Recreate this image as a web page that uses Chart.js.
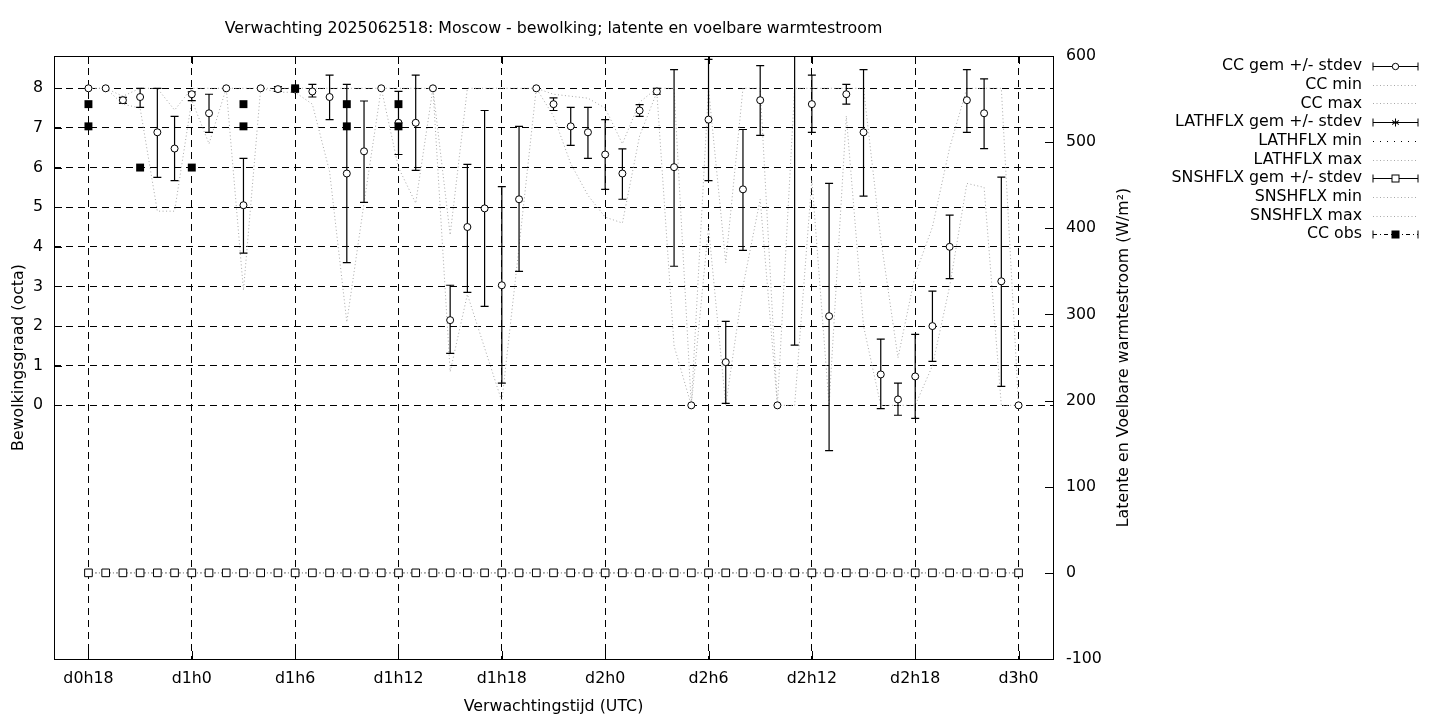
<!DOCTYPE html>
<html>
<head>
<meta charset="utf-8">
<title>Verwachting 2025062518: Moscow</title>
<script src="https://cdn.jsdelivr.net/npm/chart.js@4.4.1/dist/chart.umd.min.js"></script>
<style>
  html, body { margin: 0; padding: 0; background: #fff; }
  #wrap { width: 1440px; height: 720px; }
</style>
</head>
<body>
<div id="wrap"><canvas id="chart" width="1440" height="720"></canvas></div>
<script>
// lead time in hours since d0h0, one step per hour
const hours = [18, 19, 20, 21, 22, 23, 24, 25, 26, 27, 28, 29, 30, 31, 32, 33, 34, 35, 36, 37,
    38, 39, 40, 41, 42, 43, 44, 45, 46, 47, 48, 49, 50, 51, 52, 53, 54, 55, 56, 57,
    58, 59, 60, 61, 62, 63, 64, 65, 66, 67, 68, 69, 70, 71, 72];
const tickHours = [18, 24, 30, 36, 42, 48, 54, 60, 66, 72];
const tickLabels = ['d0h18', 'd1h0', 'd1h6', 'd1h12', 'd1h18', 'd2h0', 'd2h6', 'd2h12', 'd2h18', 'd3h0'];
const ccTicks = [0, 1, 2, 3, 4, 5, 6, 7, 8];
const fluxTicks = [-100, 0, 100, 200, 300, 400, 500, 600];

// cloud cover (octa): mean, mean - stdev, mean + stdev, min, max
const ccMean = [8.0, 8.0, 7.70, 7.78, 6.89, 6.48, 7.85, 7.37, 8.0, 5.05,
    8.0, 7.98, 7.97, 7.92, 7.78, 5.85, 6.41, 8.0, 7.13, 7.13,
    8.0, 2.15, 4.50, 4.97, 3.03, 5.20, 8.0, 7.60, 7.04, 6.89,
    6.33, 5.85, 7.44, 7.92, 6.01, 0.0, 7.21, 1.09, 5.45, 7.70,
    0.0, null, 7.60, 2.25, 7.85, 6.89, 0.78, 0.15, 0.73, 2.00,
    4.00, 7.70, 7.37, 3.13, 0.0];
const ccLow = [null, null, 7.62, 7.52, 5.75, 5.67, 7.69, 6.89, null, 3.84,
    null, 7.92, 7.90, 7.78, 7.21, 3.60, 5.12, null, 6.33, 5.93,
    null, 1.31, 2.85, 2.50, 0.56, 3.38, null, 7.44, 6.56, 6.23,
    5.45, 5.20, 7.29, 7.85, 3.51, null, 5.67, 0.05, 3.91, 6.81,
    null, 1.52, 6.89, -1.14, 7.60, 5.28, -0.08, -0.25, -0.33, 1.11,
    3.20, 6.89, 6.48, 0.48, null];
const ccHigh = [null, null, 7.77, 8.00, 8.00, 7.29, 7.91, 7.85, null, 6.23,
    null, 8.04, 8.03, 8.10, 8.33, 8.10, 7.68, null, 7.92, 8.33,
    null, 3.03, 6.08, 7.44, 5.52, 7.04, null, 7.76, 7.52, 7.52,
    7.21, 6.47, 7.59, 8.00, 8.47, null, 8.73, 2.12, 6.96, 8.57,
    null, 9.60, 8.33, 5.60, 8.10, 8.47, 1.67, 0.56, 1.79, 2.88,
    4.80, 8.47, 8.24, 5.76, null];
const ccMin = [8.0, 8.0, 7.6, 7.5, 4.9, 4.9, 7.7, 6.6, 8.0, 2.9,
    8.0, 7.9, 7.9, 7.6, 5.9, 2.1, 5.1, 8.0, 6.0, 5.1,
    8.0, 0.85, 2.8, 1.45, 0.1, 4.0, 8.0, 7.3, 6.1, 5.3,
    4.75, 4.6, 6.8, 7.9, 1.5, 0.0, 4.5, 0.0, 3.0, 5.2,
    0.0, 0.0, 5.7, 0.0, 7.3, 2.0, 0.0, 0.0, 0.0, 1.0,
    3.0, 5.6, 5.5, 0.0, 0.0];
const ccMax = [8.0, 8.0, 7.8, 8.0, 8.0, 7.45, 8.0, 8.0, 8.0, 8.0,
    8.0, 8.0, 8.0, 8.0, 8.0, 8.0, 8.0, 8.0, 8.0, 8.0,
    8.0, 4.3, 8.0, 8.0, 8.0, 8.0, 8.0, 7.85, 7.8, 7.75,
    7.5, 6.6, 7.65, 8.0, 8.0, 0.0, 8.0, 3.6, 8.0, 8.0,
    0.0, 8.0, 8.0, 8.0, 8.0, 8.0, 4.2, 1.2, 3.3, 4.5,
    6.5, 8.0, 8.0, 8.0, 0.0];

// latent and sensible heat flux (W/m2)
const lathMean = [0, 0, 0, 0, 0, 0, 0, 0, 0, 0, 0, 0, 0, 0, 0, 0, 0, 0, 0, 0, 0, 0, 0, 0, 0, 0, 0, 0,
    0, 0, 0, 0, 0, 0, 0, 0, 0, 0, 0, 0, 0, 0, 0, 0, 0, 0, 0, 0, 0, 0, 0, 0, 0, 0, 0];
const lathMin = [0, 0, 0, 0, 0, 0, 0, 0, 0, 0, 0, 0, 0, 0, 0, 0, 0, 0, 0, 0, 0, 0, 0, 0, 0, 0, 0, 0,
    0, 0, 0, 0, 0, 0, 0, 0, 0, 0, 0, 0, 0, 0, 0, 0, 0, 0, 0, 0, 0, 0, 0, 0, 0, 0, 0];
const lathMax = [0, 0, 0, 0, 0, 0, 0, 0, 0, 0, 0, 0, 0, 0, 0, 0, 0, 0, 0, 0, 0, 0, 0, 0, 0, 0, 0, 0,
    0, 0, 0, 0, 0, 0, 0, 0, 0, 0, 0, 0, 0, 0, 0, 0, 0, 0, 0, 0, 0, 0, 0, 0, 0, 0, 0];
const snshMean = [0, 0, 0, 0, 0, 0, 0, 0, 0, 0, 0, 0, 0, 0, 0, 0, 0, 0, 0, 0, 0, 0, 0, 0, 0, 0, 0, 0,
    0, 0, 0, 0, 0, 0, 0, 0, 0, 0, 0, 0, 0, 0, 0, 0, 0, 0, 0, 0, 0, 0, 0, 0, 0, 0, 0];
const snshMin = [0, 0, 0, 0, 0, 0, 0, 0, 0, 0, 0, 0, 0, 0, 0, 0, 0, 0, 0, 0, 0, 0, 0, 0, 0, 0, 0, 0,
    0, 0, 0, 0, 0, 0, 0, 0, 0, 0, 0, 0, 0, 0, 0, 0, 0, 0, 0, 0, 0, 0, 0, 0, 0, 0, 0];
const snshMax = [0, 0, 0, 0, 0, 0, 0, 0, 0, 0, 0, 0, 0, 0, 0, 0, 0, 0, 0, 0, 0, 0, 0, 0, 0, 0, 0, 0,
    0, 0, 0, 0, 0, 0, 0, 0, 0, 0, 0, 0, 0, 0, 0, 0, 0, 0, 0, 0, 0, 0, 0, 0, 0, 0, 0];

// observed cloud cover
const obsHours = [18, 18, 21, 24, 27, 27, 30, 33, 33, 36, 36];
const obsValues = [7.6, 7.04, 6.0, 6.0, 7.6, 7.04, 8.0, 7.6, 7.04, 7.6, 7.04];

const legendLabels = ['CC gem +/- stdev', 'CC min', 'CC max', 'LATHFLX gem +/- stdev', 'LATHFLX min',
    'LATHFLX max', 'SNSHFLX gem +/- stdev', 'SNSHFLX min', 'SNSHFLX max', 'CC obs'];
const legendKinds = ['errCircle', 'gray', 'gray', 'errStar', 'blackDots', 'gray', 'errSquare', 'gray', 'gray', 'obs'];

const FONT = '15.8px "DejaVu Sans"';
const GRAY = '#a8a8a8';

function xy(values) {
    return hours.map((h, i) => ({x: h, y: values[i]}));
}

function grayLine(label, values, axis, order) {
    return {
        label: label, data: xy(values), yAxisID: axis, order: order,
        borderColor: GRAY, borderWidth: 1, borderDash: [1, 2.5],
        pointRadius: 0, showLine: true, spanGaps: false
    };
}

// error bars for the CC mean, drawn just before the mean circles
function drawErrorBars(chart) {
    const ctx = chart.ctx;
    const xs = chart.scales.x;
    const ys = chart.scales.y;
    const area = chart.chartArea;
    ctx.save();
    ctx.beginPath();
    ctx.rect(area.left, area.top, area.right - area.left, area.bottom - area.top);
    ctx.clip();
    ctx.strokeStyle = '#000';
    ctx.lineWidth = 1.2;
    ctx.setLineDash([]);
    hours.forEach((h, i) => {
        if (ccLow[i] === null || ccHigh[i] === null) return;
        const x = xs.getPixelForValue(h);
        const y1 = ys.getPixelForValue(ccLow[i]);
        const y2 = ys.getPixelForValue(ccHigh[i]);
        ctx.beginPath();
        ctx.moveTo(x, y1); ctx.lineTo(x, y2);
        ctx.moveTo(x - 4, y1); ctx.lineTo(x + 4, y1);
        ctx.moveTo(x - 4, y2); ctx.lineTo(x + 4, y2);
        ctx.stroke();
    });
    ctx.restore();
}

function drawSample(ctx, kind, x1, x2, y) {
    const xm = (x1 + x2) / 2;
    ctx.save();
    ctx.strokeStyle = '#000';
    ctx.lineWidth = 1;
    if (kind === 'gray') {
        ctx.strokeStyle = GRAY;
        ctx.setLineDash([1, 2.5]);
        ctx.beginPath(); ctx.moveTo(x1, y); ctx.lineTo(x2, y); ctx.stroke();
    } else if (kind === 'blackDots') {
        ctx.setLineDash([1, 6]);
        ctx.beginPath(); ctx.moveTo(x1, y); ctx.lineTo(x2, y); ctx.stroke();
    } else {
        if (kind === 'obs') ctx.setLineDash([4, 3, 1, 3]);
        ctx.beginPath(); ctx.moveTo(x1, y); ctx.lineTo(x2, y); ctx.stroke();
        ctx.setLineDash([]);
        ctx.beginPath();
        ctx.moveTo(x1, y - 4); ctx.lineTo(x1, y + 4);
        ctx.moveTo(x2, y - 4); ctx.lineTo(x2, y + 4);
        ctx.stroke();
        if (kind === 'errCircle') {
            ctx.fillStyle = '#fff';
            ctx.beginPath(); ctx.arc(xm, y, 3.2, 0, Math.PI * 2); ctx.fill(); ctx.stroke();
        } else if (kind === 'errSquare') {
            ctx.fillStyle = '#fff';
            ctx.fillRect(xm - 3.5, y - 3.5, 7, 7); ctx.strokeRect(xm - 3.5, y - 3.5, 7, 7);
        } else if (kind === 'obs') {
            ctx.fillStyle = '#000';
            ctx.fillRect(xm - 4, y - 4, 8, 8);
        } else if (kind === 'errStar') {
            ctx.beginPath();
            for (let k = 0; k < 3; k++) {
                const a = k * Math.PI / 3;
                ctx.moveTo(xm - 4 * Math.sin(a), y - 4 * Math.cos(a));
                ctx.lineTo(xm + 4 * Math.sin(a), y + 4 * Math.cos(a));
            }
            ctx.moveTo(xm - 4, y); ctx.lineTo(xm + 4, y);
            ctx.stroke();
        }
    }
    ctx.restore();
}

const gnuplotFrame = {
    id: 'gnuplotFrame',
    beforeDraw(chart) {
        const ctx = chart.ctx;
        ctx.save();
        ctx.fillStyle = '#fff';
        ctx.fillRect(0, 0, chart.width, chart.height);
        ctx.restore();
    },
    beforeDatasetDraw(chart, args) {
        if (chart.data.datasets[args.index].label === 'CC gem +/- stdev') drawErrorBars(chart);
    },
    afterDraw(chart) {
        const ctx = chart.ctx;
        const a = chart.chartArea;
        const xs = chart.scales.x, ys = chart.scales.y, y2 = chart.scales.y2;
        ctx.save();
        ctx.strokeStyle = '#000';
        ctx.lineWidth = 1;
        ctx.setLineDash([]);
        ctx.strokeRect(Math.round(a.left) + 0.5, Math.round(a.top) + 0.5,
            Math.round(a.right - a.left), Math.round(a.bottom - a.top));

        // inward tick marks
        ctx.beginPath();
        tickHours.forEach(h => {
            const x = Math.round(xs.getPixelForValue(h)) + 0.5;
            ctx.moveTo(x, a.bottom); ctx.lineTo(x, a.bottom - 8);
            ctx.moveTo(x, a.top); ctx.lineTo(x, a.top + 8);
        });
        ccTicks.forEach(v => {
            const y = Math.round(ys.getPixelForValue(v)) + 0.5;
            ctx.moveTo(a.left, y); ctx.lineTo(a.left + 8, y);
        });
        fluxTicks.forEach(v => {
            const y = Math.round(y2.getPixelForValue(v)) + 0.5;
            ctx.moveTo(a.right, y); ctx.lineTo(a.right - 8, y);
        });
        ctx.stroke();

        // titles
        ctx.fillStyle = '#000';
        ctx.font = FONT;
        ctx.textAlign = 'center';
        ctx.textBaseline = 'middle';
        const cx = (a.left + a.right) / 2;
        const cy = (a.top + a.bottom) / 2;
        ctx.fillText('Verwachting 2025062518: Moscow - bewolking; latente en voelbare warmtestroom', cx, 29);
        ctx.fillText('Verwachtingstijd (UTC)', cx, 707);
        ctx.save();
        ctx.translate(19, cy);
        ctx.rotate(-Math.PI / 2);
        ctx.fillText('Bewolkingsgraad (octa)', 0, 0);
        ctx.restore();
        ctx.save();
        ctx.translate(1124, cy);
        ctx.rotate(-Math.PI / 2);
        ctx.fillText('Latente en Voelbare warmtestroom (W/m\u00B2)', 0, 0);
        ctx.restore();

        // key
        ctx.textAlign = 'right';
        legendLabels.forEach((label, k) => {
            const y = 66 + k * 18.7;
            ctx.fillStyle = '#000';
            ctx.fillText(label, 1362, y);
            drawSample(ctx, legendKinds[k], 1373, 1418, Math.round(y) + 0.5);
        });
        ctx.restore();
    }
};

const chart = new Chart(document.getElementById('chart').getContext('2d'), {
    type: 'line',
    data: {
        datasets: [
            {
                label: 'CC obs', order: 0, yAxisID: 'y',
                data: obsHours.map((h, i) => ({x: h, y: obsValues[i]})),
                showLine: false, pointStyle: 'rect', pointRadius: 5.6,
                pointBackgroundColor: '#000', pointBorderColor: '#000', pointBorderWidth: 0
            },
            {
                label: 'SNSHFLX gem +/- stdev', order: 1, yAxisID: 'y2', data: xy(snshMean),
                showLine: false, pointStyle: 'rect', pointRadius: 5.4,
                pointBackgroundColor: '#fff', pointBorderColor: '#000', pointBorderWidth: 1
            },
            grayLine('SNSHFLX max', snshMax, 'y2', 2),
            grayLine('SNSHFLX min', snshMin, 'y2', 3),
            grayLine('LATHFLX max', lathMax, 'y2', 4),
            {
                label: 'LATHFLX min', order: 5, yAxisID: 'y2', data: xy(lathMin),
                borderColor: '#000', borderWidth: 1, borderDash: [1, 6], pointRadius: 0
            },
            {
                label: 'LATHFLX gem +/- stdev', order: 6, yAxisID: 'y2', data: xy(lathMean),
                showLine: false, pointRadius: 0
            },
            {
                label: 'CC gem +/- stdev', order: 7, yAxisID: 'y', data: xy(ccMean),
                showLine: false, pointStyle: 'circle', pointRadius: 3.5,
                pointBackgroundColor: '#fff', pointBorderColor: '#000', pointBorderWidth: 1
            },
            grayLine('CC max', ccMax, 'y', 8),
            grayLine('CC min', ccMin, 'y', 9)
        ]
    },
    options: {
        responsive: false,
        animation: false,
        devicePixelRatio: 1,
        layout: {padding: {top: 56, left: 0, right: 0, bottom: 0}},
        plugins: {
            legend: {display: false},
            title: {display: false},
            tooltip: {enabled: false}
        },
        scales: {
            x: {
                type: 'linear', min: 16, max: 74,
                afterBuildTicks: s => { s.ticks = tickHours.map(v => ({value: v})); },
                afterFit: s => { s.height = 61; },
                ticks: {
                    color: '#000', font: {family: 'DejaVu Sans', size: 15.8}, padding: 10,
                    maxRotation: 0, autoSkip: false,
                    callback: v => tickLabels[tickHours.indexOf(v)]
                },
                grid: {color: '#000', lineWidth: 1, drawTicks: false},
                border: {display: false, dash: [7, 5]}
            },
            y: {
                position: 'left', min: -6.4, max: 8.815,
                afterBuildTicks: s => { s.ticks = ccTicks.map(v => ({value: v})); },
                afterFit: s => { s.width = 54; },
                ticks: {color: '#000', font: {family: 'DejaVu Sans', size: 15.8}, padding: 11},
                grid: {color: '#000', lineWidth: 1, drawTicks: false},
                border: {display: false, dash: [7, 5]}
            },
            y2: {
                position: 'right', min: -100, max: 600,
                afterBuildTicks: s => { s.ticks = fluxTicks.map(v => ({value: v})); },
                afterFit: s => { s.width = 387; },
                ticks: {color: '#000', font: {family: 'DejaVu Sans', size: 15.8}, padding: 13},
                grid: {display: false, drawTicks: false},
                border: {display: false}
            }
        }
    },
    plugins: [gnuplotFrame]
});
</script>
</body>
</html>
